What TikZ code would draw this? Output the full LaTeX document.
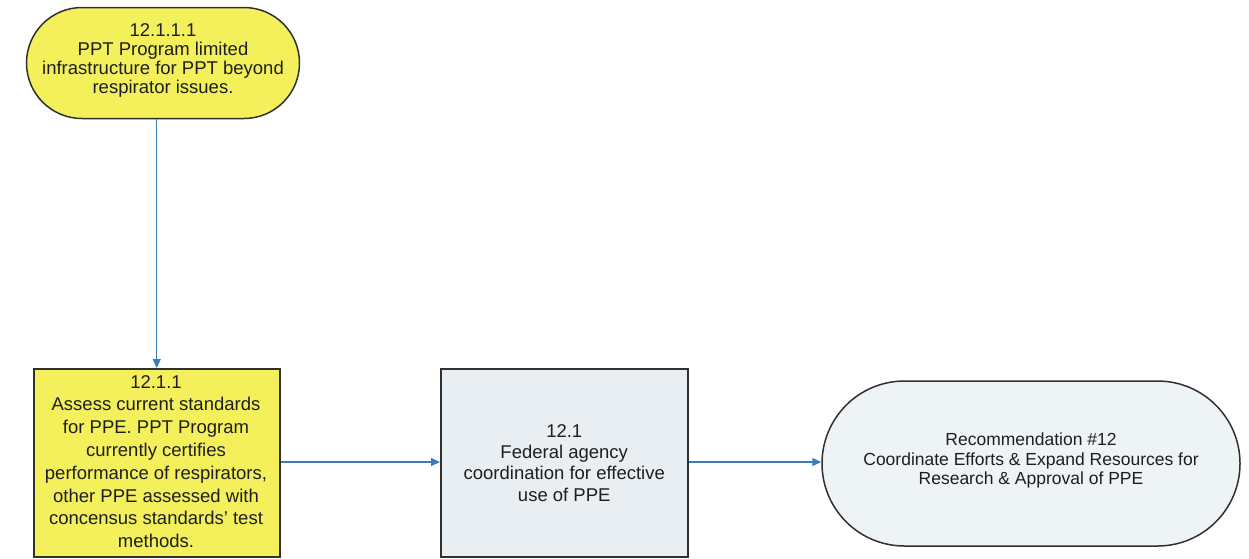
\documentclass[tikz,border=0pt]{standalone}
\usepackage{fontspec}
\setmainfont{Liberation Sans}
\usetikzlibrary{arrows.meta,shapes.misc}
\definecolor{ylw}{HTML}{F3F05C}
\definecolor{pale}{HTML}{E8EEF1}
\definecolor{palest}{HTML}{EEF3F6}
\definecolor{edge}{HTML}{303030}
\definecolor{txt}{HTML}{1E1E1E}
\definecolor{arr}{HTML}{3B7BB8}
\tikzset{
  box/.style={draw=edge, line width=1.5pt, align=center, inner sep=0pt, text=txt},
  pill/.style={box, rounded rectangle},
  label/.style={align=center, text=txt, inner sep=0pt},
  conn/.style={draw=arr, line width=1.1pt, -{Triangle[length=9pt,width=8pt]}}
}
\begin{document}
\begin{tikzpicture}[x=1pt,y=-1pt]
\useasboundingbox (0,0) rectangle (1249,558);
\fill[white] (0,0) rectangle (1249,558);
\node[pill, fill=ylw, minimum width=273pt, minimum height=111pt] (a) at (163,63) {};
\node[label, font=\fontsize{18.5}{19}\selectfont] (at) at (163,60.5)
  {12.1.1.1\\PPT Program limited\\infrastructure for PPT beyond\\respirator issues.};
\node[box, fill=ylw, minimum width=246pt, minimum height=188pt, anchor=north west] (b) at (33,368) {};
\node[label, font=\fontsize{18.5}{22.8}\selectfont, anchor=north] (bt) at (156,375)
  {12.1.1\\Assess current standards\\for PPE. PPT Program\\currently certifies\\performance of respirators,\\other PPE assessed with\\concensus standards' test\\methods.};
\node[box, fill=pale, minimum width=247pt, minimum height=188pt, anchor=north west,
  font=\fontsize{18.5}{21.3}\selectfont] (c) at (440,368)
  {12.1\\Federal agency\\coordination for effective\\use of PPE};
\node[pill, fill=palest, minimum width=418pt, minimum height=165pt] (d) at (1031,463.5) {};
\node[label, font=\fontsize{17.5}{19.5}\selectfont] (dt) at (1031,460.5)
  {Recommendation \#12\\Coordinate Efforts \& Expand Resources for\\Research \& Approval of PPE};
\draw[conn] (a.south -| b.north) -- (b.north);
\draw[conn] (b.east |- 0,462) -- (c.west |- 0,462);
\draw[conn] (c.east |- 0,462) -- (d.west |- 0,462);
\end{tikzpicture}
\end{document}
